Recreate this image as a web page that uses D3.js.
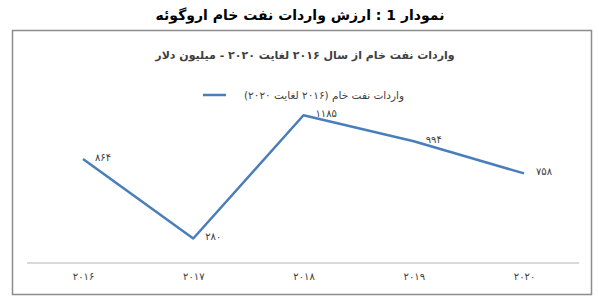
<!DOCTYPE html>
<html><head><meta charset="utf-8">
<script src="https://cdn.jsdelivr.net/npm/d3@7"></script>
<style>body{margin:0;background:#fff}svg{display:block}</style>
</head><body>
<script>
const categories = ["۲۰۱۶","۲۰۱۷","۲۰۱۸","۲۰۱۹","۲۰۲۰"];
const values = [864, 280, 1185, 994, 758];
const seriesName = "واردات نفت خام (۲۰۱۶ لغایت ۲۰۲۰)";
const mainTitle = "نمودار 1 : ارزش واردات نفت خام اروگوئه";
const chartTitle = "واردات نفت خام از سال ۲۰۱۶ لغایت ۲۰۲۰ - میلیون دلار";
const yDomain = [100, 1400];

const fa = s => String(s).replace(/\d/g, d => "۰۱۲۳۴۵۶۷۸۹"[d]);
const W = 599, H = 302;
const font = "DejaVu Sans, sans-serif";
const svg = d3.select("body").append("svg").attr("width", W).attr("height", H);

svg.append("text").attr("x", 300).attr("y", 20).attr("text-anchor","middle")
  .attr("direction","rtl").attr("font-family",font).attr("font-weight","bold")
  .attr("font-size",14).attr("fill","#000").text(mainTitle);

svg.append("rect").attr("x",12.5).attr("y",30.5).attr("width",579).attr("height",264)
  .attr("fill","#fff").attr("stroke","#8c8c8c").attr("stroke-width",1.5);

svg.append("text").attr("x",305).attr("y",59).attr("text-anchor","middle")
  .attr("direction","rtl").attr("font-family",font).attr("font-weight","bold")
  .attr("font-size",11).attr("fill","#404040").text(chartTitle);

const x = d3.scalePoint().domain(categories).range([83, 524]);
const y = d3.scaleLinear().domain(yDomain).range([263, 86]);

// legend
svg.append("line").attr("x1",203).attr("x2",226).attr("y1",95).attr("y2",95)
  .attr("stroke","#4a7ebb").attr("stroke-width",2.5);
svg.append("text").attr("x",324).attr("y",99).attr("text-anchor","middle")
  .attr("direction","rtl").attr("font-family",font).attr("font-size",10.5)
  .attr("fill","#404040").text(seriesName);

// x axis
const axis = svg.append("g").attr("transform","translate(0,263)")
  .call(d3.axisBottom(x).tickSize(0).tickPadding(10));
axis.select(".domain").remove();
axis.append("line").attr("x1",27).attr("x2",579).attr("y1",0).attr("y2",0)
  .attr("stroke","#d9d9d9").attr("stroke-width",2);
axis.selectAll(".tick text").attr("font-family",font).attr("font-size",10).attr("fill","#404040");

const line = d3.line().x((d,i)=>x(categories[i])).y(d=>y(d));
svg.append("path").datum(values).attr("d",line).attr("fill","none")
  .attr("stroke","#4a7ebb").attr("stroke-width",2.5).attr("stroke-linejoin","round");

svg.selectAll(".lbl").data(values).enter().append("text")
  .attr("x",(d,i)=>x(categories[i])+12).attr("y",d=>y(d)-1)
  .attr("dominant-baseline","middle").attr("font-family",font).attr("font-size",10)
  .attr("fill","#404040").text(d=>fa(d));
</script>
</body></html>
